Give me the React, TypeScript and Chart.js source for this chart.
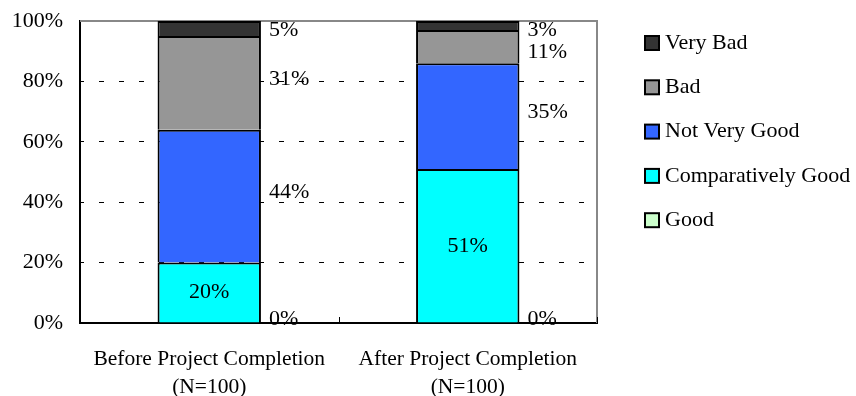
import React, { useEffect, useRef } from 'react';
import { Chart, registerables } from 'chart.js';

Chart.register(...registerables);

const categories = [
  ['Before Project Completion', '(N=100)'],
  ['After Project Completion', '(N=100)'],
];
const seriesNames = ['Good', 'Comparatively Good', 'Not Very Good', 'Bad', 'Very Bad'];
const good = [0, 0];
const comparativelyGood = [20, 51];
const notVeryGood = [44, 35];
const bad = [31, 11];
const veryBad = [5, 3];
const yTicks = [0, 20, 40, 60, 80, 100];
const seriesColors = ['#CCFFCC', '#00FFFF', '#3366FF', '#969696', '#333333'];
const insideLabelSeries = 'Comparatively Good';

const FONT = '"Liberation Serif", "Times New Roman", serif';
const FONT_SIZE = 22;

const decorPlugin = {
  id: 'decor',
  beforeDatasetsDraw(chart: any) {
    const { ctx, chartArea: a } = chart;
    ctx.save();
    ctx.strokeStyle = '#888';
    ctx.lineWidth = 2;
    ctx.beginPath();
    ctx.moveTo(a.left, a.top);
    ctx.lineTo(a.right, a.top);
    ctx.lineTo(a.right, a.bottom);
    ctx.stroke();
    ctx.strokeStyle = '#000';
    ctx.lineWidth = 1;
    const xs = chart.scales.x;
    const n = chart.data.labels.length;
    const bounds: number[] = [a.left, a.right];
    for (let i = 1; i < n; i++) {
      bounds.push((xs.getPixelForTick(i - 1) + xs.getPixelForTick(i)) / 2);
    }
    bounds.forEach((bx) => {
      const px = Math.round(bx) + 0.5;
      ctx.beginPath();
      ctx.moveTo(px, a.bottom);
      ctx.lineTo(px, a.bottom - 6);
      ctx.stroke();
    });
    ctx.restore();
  },
  afterDatasetsDraw(chart: any) {
    const { ctx, chartArea: a } = chart;
    ctx.save();
    ctx.font = `${FONT_SIZE}px ${FONT}`;
    ctx.fillStyle = '#000';
    ctx.textBaseline = 'middle';
    const n = chart.data.labels.length;
    for (let j = 0; j < n; j++) {
      const outside: { x: number; y: number; text: string }[] = [];
      chart.data.datasets.forEach((ds: any, i: number) => {
        const el: any = chart.getDatasetMeta(i).data[j];
        const text = ds.data[j] + '%';
        const mid = (el.y + el.base) / 2;
        if (ds.label === insideLabelSeries) {
          ctx.textAlign = 'center';
          ctx.fillText(text, el.x, mid);
        } else {
          outside.push({ x: el.x + el.width / 2 + 8, y: mid - 4, text });
        }
      });
      outside.sort((p, q) => p.y - q.y);
      let prev = a.top + 9 - 22;
      ctx.textAlign = 'left';
      outside.forEach((it) => {
        if (it.y < prev + 22) it.y = prev + 22;
        prev = it.y;
        ctx.fillText(it.text, it.x, it.y);
      });
    }
    ctx.restore();
  },
  afterDraw(chart: any) {
    // legend (reverse order: top of stack first)
    const { ctx, chartArea: a } = chart;
    ctx.save();
    ctx.font = `${FONT_SIZE}px ${FONT}`;
    ctx.textBaseline = 'middle';
    ctx.textAlign = 'left';
    const ds = chart.data.datasets.slice().reverse();
    const boxX = a.right + 48;
    ds.forEach((d: any, k: number) => {
      const cy = 43 + k * 44.3;
      ctx.fillStyle = d.backgroundColor;
      ctx.strokeStyle = '#000';
      ctx.lineWidth = 2;
      ctx.fillRect(boxX, cy - 7, 14, 14);
      ctx.strokeRect(boxX, cy - 7, 14, 14);
      ctx.fillStyle = '#000';
      ctx.fillText(d.label, boxX + 20, cy);
    });
    ctx.restore();
  },
};

export default function App() {
  const ref = useRef<HTMLCanvasElement>(null);

  useEffect(() => {
    if (!ref.current) return;
    const seriesData = [good, comparativelyGood, notVeryGood, bad, veryBad];
    const font = { family: FONT, size: FONT_SIZE, lineHeight: 1.3 };
    const catFont = { family: FONT, size: 21.5, lineHeight: 1.3 };
    const chart = new Chart(ref.current, {
      type: 'bar',
      data: {
        labels: categories,
        datasets: seriesNames.map((name, i) => ({
          label: name,
          data: seriesData[i],
          backgroundColor: seriesColors[i],
          borderColor: '#000',
          borderWidth: { top: 2, left: 2, right: 2, bottom: 0 },
          borderSkipped: false,
          barPercentage: 0.4,
          categoryPercentage: 1,
        })),
      },
      options: {
        responsive: false,
        animation: false,
        devicePixelRatio: 1,
        layout: { padding: { top: 21, left: 0, right: 259, bottom: 0 } },
        plugins: {
          tooltip: { enabled: false },
          legend: { display: false },
        },
        scales: {
          x: {
            stacked: true,
            grid: { display: false },
            border: { color: '#000', width: 2 },
            ticks: { font: catFont, color: '#000', padding: 14, maxRotation: 0, autoSkip: false },
            afterFit(s: any) {
              s.height = 73;
            },
          },
          y: {
            stacked: true,
            min: 0,
            max: 100,
            afterBuildTicks(s: any) {
              s.ticks = yTicks.map((v) => ({ value: v }));
            },
            ticks: {
              font,
              color: '#000',
              padding: 17,
              callback: (v: any) => v + '%',
            },
            grid: {
              drawTicks: false,
              lineWidth: 1,
              color: (c: any) =>
                c.tick && (c.tick.value === 0 || c.tick.value === 100) ? 'rgba(0,0,0,0)' : '#000',
            },
            border: { color: '#000', width: 2, dash: [5, 15], dashOffset: 2 },
            afterFit(s: any) {
              s.width = 80;
              s.paddingTop = 0;
              s.paddingBottom = 0;
            },
          },
        },
      } as any,
      plugins: [decorPlugin],
    });
    return () => chart.destroy();
  }, []);

  return (
    <div style={{ position: 'absolute', left: 0, top: 0, width: 856, height: 396, background: '#fff' }}>
      <canvas ref={ref} width={856} height={396} />
    </div>
  );
}
